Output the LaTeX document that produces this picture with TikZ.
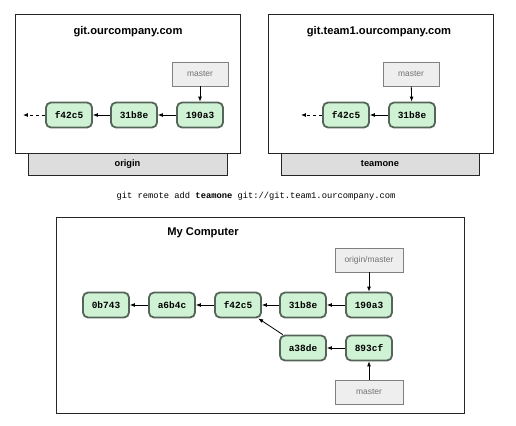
\documentclass[tikz,border=0pt]{standalone}
\usepackage{fontspec}
\setmainfont{Liberation Sans}
\setmonofont{Liberation Mono}
\usetikzlibrary{arrows.meta}
\definecolor{commitfill}{HTML}{D0F2D4}
\definecolor{commitline}{HTML}{55655A}
\definecolor{reffill}{HTML}{EEEEEE}
\definecolor{tabfill}{HTML}{DDDDDD}
\tikzset{
  commit/.style={draw=commitline, fill=commitfill, line width=1.8pt, rounded corners=5pt,
    minimum width=46bp, minimum height=25bp, font=\ttfamily\bfseries\fontsize{9.5}{10}\selectfont},
  ref/.style={draw=gray, fill=reffill, line width=0.8pt, minimum width=56bp, minimum height=24bp,
    text=black!55, font=\fontsize{8.5}{10}\selectfont},
  server/.style={draw=black!85, fill=white, line width=1pt},
  tab/.style={draw=black!85, fill=tabfill, line width=1pt, font=\bfseries\fontsize{9.3}{11}\selectfont},
  title/.style={font=\bfseries\fontsize{11.2}{13}\selectfont},
  parent/.style={-{Latex[length=5pt,width=4pt]}, line width=0.8pt}
}
\begin{document}
\begin{tikzpicture}[x=1bp, y=-1bp]
  \useasboundingbox (0,0) rectangle (516,425);
  % origin server
  \draw[tab] (28,150) rectangle (227,175);
  \node[tab, draw=none, fill=none] (originlbl) at (127.5,164) {origin};
  \draw[server] (15,14) rectangle (240,153);
  \node[title] (origintitle) at (128,32) {git.ourcompany.com};
  \node[commit] (o1) at (69,115) {f42c5};
  \node[commit] (o2) at (134,115) {31b8e};
  \node[commit] (o3) at (200,115) {190a3};
  \node[ref] (omaster) at (200,74) {master};
  \coordinate (oend) at (23,115);
  \draw[parent] (o3) -- (o2);
  \draw[parent] (o2) -- (o1);
  \draw[parent, dashed] (o1) -- (oend);
  \draw[parent] (omaster) -- (o3);
  % teamone server
  \draw[tab] (281,150) rectangle (479,175);
  \node[tab, draw=none, fill=none] (teamlbl) at (380,164) {teamone};
  \draw[server] (268,14) rectangle (493,153);
  \node[title] (teamtitle) at (379,32) {git.team1.ourcompany.com};
  \node[commit] (t1) at (346,115) {f42c5};
  \node[commit] (t2) at (412,115) {31b8e};
  \node[ref] (tmaster) at (411,74) {master};
  \coordinate (tend) at (301,115);
  \draw[parent] (t2) -- (t1);
  \draw[parent, dashed] (t1) -- (tend);
  \draw[parent] (tmaster) -- (t2);
  % command
  \node[font=\ttfamily\fontsize{8.8}{10}\selectfont] (cmd) at (256,196)
    {git remote add \textbf{teamone} git://git.team1.ourcompany.com};
  % my computer
  \draw[server] (56,217) rectangle (464,413);
  \node[title] (mytitle) at (203,233) {My Computer};
  \node[commit] (c1) at (106,305) {0b743};
  \node[commit] (c2) at (172,305) {a6b4c};
  \node[commit] (c3) at (238,305) {f42c5};
  \node[commit] (c4) at (303,305) {31b8e};
  \node[commit] (c5) at (369,305) {190a3};
  \node[commit] (c6) at (303,348) {a38de};
  \node[commit] (c7) at (369,348) {893cf};
  \node[ref, minimum width=68bp] (omref) at (369,260) {origin/master};
  \node[ref, minimum width=68bp] (mref) at (369,392) {master};
  \draw[parent] (c5) -- (c4);
  \draw[parent] (c4) -- (c3);
  \draw[parent] (c3) -- (c2);
  \draw[parent] (c2) -- (c1);
  \draw[parent] (c7) -- (c6);
  \draw[parent] (c6) -- (c3);
  \draw[parent] (omref) -- (c5);
  \draw[parent] (mref) -- (c7);
\end{tikzpicture}
\end{document}
